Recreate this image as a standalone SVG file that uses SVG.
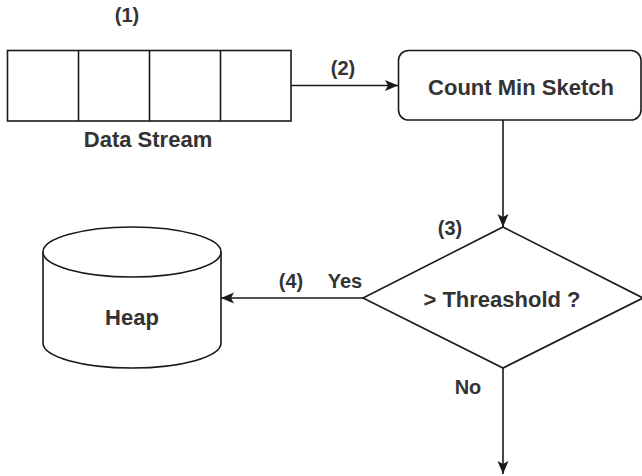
<svg xmlns="http://www.w3.org/2000/svg" width="642" height="476" viewBox="0 0 642 476">
<style>
.s{fill:#fff;stroke:#1a1a1a;stroke-width:1.6}
.c{fill:none;stroke:#1a1a1a;stroke-width:1.6}
.t{font-family:"Liberation Sans",Arial,sans-serif;font-weight:bold;fill:#333;text-anchor:middle}
.m{font-size:22px}
.l{font-size:20px}
</style>
<defs>
<marker id="a" markerUnits="userSpaceOnUse" markerWidth="16" markerHeight="16" viewBox="0 0 16 16" refX="14" refY="8" orient="auto">
<path d="M1,2.5 L14,8 L1,13.5 L4,8 Z" fill="#1a1a1a"/>
</marker>
</defs>
<rect width="642" height="476" fill="#fff"/>
<g id="connectors">
<line class="c" x1="291" y1="85.5" x2="398" y2="85.5" marker-end="url(#a)"/>
<line class="c" x1="503" y1="120" x2="503" y2="227" marker-end="url(#a)"/>
<line class="c" x1="363" y1="298" x2="221" y2="298" marker-end="url(#a)"/>
<line class="c" x1="503" y1="368" x2="503" y2="474" marker-end="url(#a)"/>
<text class="t l" x="343" y="75">(2)</text>
<text class="t l" x="291" y="288">(4)</text>
<text class="t l" x="345" y="288">Yes</text>
<text class="t l" x="468" y="394">No</text>
</g>
<g id="data-stream">
<rect class="s" x="7.5" y="50.5" width="283.5" height="70.5"/>
<line class="c" x1="78.5" y1="50.5" x2="78.5" y2="121"/>
<line class="c" x1="149.5" y1="50.5" x2="149.5" y2="121"/>
<line class="c" x1="220.5" y1="50.5" x2="220.5" y2="121"/>
<text class="t l" x="127" y="22">(1)</text>
<text class="t m" x="148" y="147">Data Stream</text>
</g>
<g id="count-min-sketch">
<rect class="s" x="398.5" y="50.5" width="242.5" height="69.5" rx="10" ry="10"/>
<text class="t m" x="521" y="95">Count Min Sketch</text>
</g>
<g id="threshold">
<polygon class="s" points="503,227 643,298 503,368 363,298"/>
<text class="t l" x="450" y="235">(3)</text>
<text class="t m" x="502" y="307">&gt; Threashold ?</text>
</g>
<g id="heap">
<path class="s" d="M43,252 L43,343 A89,25 0 0,0 221,343 L221,252"/>
<ellipse class="s" cx="132" cy="252" rx="89" ry="25"/>
<text class="t m" x="132" y="325">Heap</text>
</g>
</svg>
